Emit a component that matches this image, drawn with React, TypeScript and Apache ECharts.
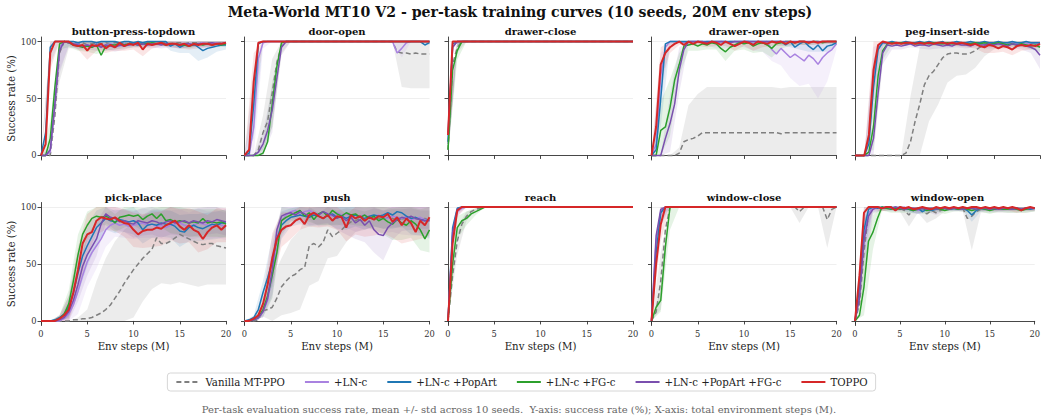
import { useEffect, useRef } from 'react';
import * as echarts from 'echarts';

// ---------- axes / categories ----------
const STEPS = [0, 0.5, 1, 1.5, 2, 2.5, 3, 3.5, 4, 4.5, 5, 5.5, 6, 6.5, 7, 7.5, 8, 8.5, 9, 9.5, 10, 10.5, 11, 11.5, 12, 12.5, 13, 13.5, 14, 14.5, 15, 15.5, 16, 16.5, 17, 17.5, 18, 18.5, 19, 19.5, 20];
const STD_STEPS = [0, 1, 2, 3, 4, 5, 6, 7, 8, 9, 10, 11, 12, 13, 14, 15, 16, 17, 18, 19, 20];
const Y_TICKS = [0, 50, 100];
const TASKS = ['button-press-topdown', 'door-open', 'drawer-close', 'drawer-open', 'peg-insert-side', 'pick-place', 'push', 'reach', 'window-close', 'window-open'];
const METHODS = ['Vanilla MT-PPO', '+LN-c', '+LN-c +PopArt', '+LN-c +FG-c', '+LN-c +PopArt +FG-c', 'TOPPO'];
const COLORS = ['#7f7f7f', '#a982e0', '#1f77b4', '#2ca02c', '#7a4fae', '#d62728'];

// ---------- button-press-topdown ----------
const bp_van = [0,0,0,35,90,100,99,100,98,99, 97,98,99,98,99,98,99,99,98,99, 99,99,98,99,99,98,99,99,98,99, 99,98,99,99,99,98,99,99,99,99, 99];
const bp_ln = [0,0,3,45,95,100,99,97,98,96, 97,95,98,96,97,98,97,96,98,97, 98,97,98,98,97,98,98,97,98,98, 97,98,98,97,98,99,98,98,99,98, 99];
const bp_pop = [0,20,95,100,100,100,100,100,99,100, 100,100,99,100,100,100,100,99,100,100, 99,100,99,100,100,100,100,100,96,98, 95,97,96,98,95,92,94,95,96,97, 97];
const bp_fg = [0,0,15,60,98,100,99,97,96,95, 96,95,97,88,96,97,97,98,97,98, 98,97,98,98,99,98,98,97,98,98, 97,97,96,97,98,97,98,97,98,97, 98];
const bp_both = [0,0,5,45,92,100,99,98,97,96, 97,96,97,95,97,96,95,97,96,97, 98,97,98,97,98,98,97,98,98,98, 97,98,98,97,98,98,98,99,98,98, 99];
const bp_top = [0,10,90,100,100,100,100,97,96,97, 92,97,96,98,94,97,95,99,96,98, 97,99,93,98,97,98,99,97,98,98, 97,98,96,98,97,98,98,97,98,98, 99];
const bp_van_s = [0,0,25,5,3,2,3,2,2,2,2,2,2,2,2,2,2,2,2,2,2];
const bp_ln_s = [0,3,20,3,4,4,3,5,4,3,3,3,3,3,3,3,3,3,3,3,3];
const bp_pop_s = [0,15,0,0,0,1,1,1,1,1,1,1,1,1,4,5,6,12,8,5,4];
const bp_fg_s = [0,15,5,4,4,5,8,4,4,3,3,3,3,2,2,2,2,2,2,2,3];
const bp_both_s = [0,4,20,3,4,4,5,4,4,3,3,3,3,3,3,3,3,3,3,3,3];
const bp_top_s = [0,15,0,2,3,8,4,4,3,4,4,6,3,3,3,3,3,3,3,2,2];

// ---------- door-open ----------
const do_van = [0,0,0,5,20,30,55,82,96,100, 100,100,100,100,100,100,100,100,100,100, 100,100,100,100,100,100,100,100,100,100, 100,100,100,91,90,90,89,90,89,89, 89];
const do_ln = [0,0,25,85,99,100,100,100,100,100, 100,100,100,100,100,100,100,100,100,100, 100,100,100,100,100,100,100,100,100,100, 100,100,100,90,94,99,100,100,100,100, 100];
const do_pop = [0,2,45,98,100,100,100,100,100,100, 100,100,100,100,100,100,100,100,100,100, 100,100,100,100,100,100,100,100,100,100, 100,100,100,100,100,100,100,100,100,97, 99];
const do_fg = [0,0,0,0,2,12,45,78,99,100, 100,100,100,100,100,100,100,100,100,100, 100,100,100,100,100,100,100,100,100,100, 100,100,100,100,100,100,100,100,100,100, 100];
const do_both = [0,0,0,3,10,22,40,68,95,100, 100,100,100,100,100,100,100,100,100,100, 100,100,100,100,100,100,100,100,100,100, 100,100,100,100,100,100,100,100,100,100, 100];
const do_top = [0,5,65,99,100,100,100,100,100,100, 100,100,100,100,100,100,100,100,100,100, 100,100,100,100,100,100,100,100,100,100, 100,100,100,100,100,100,100,100,100,100, 100];
const do_van_s = [0,0,15,30,8,0,0,0,0,0,0,0,0,0,0,0,0,30,30,30,30];
const do_ln_s = [0,25,5,0,0,0,0,0,0,0,0,0,0,0,0,0,0,8,0,0,0];
const do_pop_s = [0,30,0,0,0,0,0,0,0,0,0,0,0,0,0,0,0,0,0,0,2];
const do_fg_s = [0,0,8,20,2,0,0,0,0,0,0,0,0,0,0,0,0,0,0,0,0];
const do_both_s = [0,0,10,20,5,0,0,0,0,0,0,0,0,0,0,0,0,0,0,0,0];
const do_top_s = [0,25,0,0,0,0,0,0,0,0,0,0,0,0,0,0,0,0,0,0,0];

// ---------- drawer-close ----------
const dc_van = [5,80,95,100,100,100,100,100,100,100, 100,100,100,100,100,100,100,100,100,100, 100,100,100,100,100,100,100,100,100,100, 100,100,100,100,100,100,100,100,100,100, 100];
const dc_ln = [10,95,100,100,100,100,100,100,100,100, 100,100,100,100,100,100,100,100,100,100, 100,100,100,100,100,100,100,100,100,100, 100,100,100,100,100,100,100,100,100,100, 100];
const dc_pop = [12,98,100,100,100,100,100,100,100,100, 100,100,100,100,100,100,100,100,100,100, 100,100,100,100,100,100,100,100,100,100, 100,100,100,100,100,100,100,100,100,100, 100];
const dc_fg = [5,75,92,100,100,100,100,100,100,100, 100,100,100,100,100,100,100,100,100,100, 100,100,100,100,100,100,100,100,100,100, 100,100,100,100,100,100,100,100,100,100, 100];
const dc_both = [20,95,100,100,100,100,100,100,100,100, 100,100,100,100,100,100,100,100,100,100, 100,100,100,100,100,100,100,100,100,100, 100,100,100,100,100,100,100,100,100,100, 100];
const dc_top = [18,100,100,100,100,100,100,100,100,100, 100,100,100,100,100,100,100,100,100,100, 100,100,100,100,100,100,100,100,100,100, 100,100,100,100,100,100,100,100,100,100, 100];
const dc_van_s = [10,5,0,0,0,0,0,0,0,0,0,0,0,0,0,0,0,0,0,0,0];
const dc_ln_s = [15,3,0,0,0,0,0,0,0,0,0,0,0,0,0,0,0,0,0,0,0];
const dc_pop_s = [15,2,0,0,0,0,0,0,0,0,0,0,0,0,0,0,0,0,0,0,0];
const dc_fg_s = [10,8,0,0,0,0,0,0,0,0,0,0,0,0,0,0,0,0,0,0,0];
const dc_both_s = [20,3,0,0,0,0,0,0,0,0,0,0,0,0,0,0,0,0,0,0,0];
const dc_top_s = [20,0,0,0,0,0,0,0,0,0,0,0,0,0,0,0,0,0,0,0,0];

// ---------- drawer-open ----------
const dro_van = [0,0,0,0,0,0,2,12,14,15, 17,20,20,20,20,20,20,20,20,20, 20,20,20,20,20,20,20,20,19,20, 20,20,20,20,20,20,20,20,20,20, 20];
const dro_ln = [0,10,70,95,100,100,100,99,100,98, 100,99,100,100,98,100,99,100,100,99, 100,100,98,100,99,100,93,89,94,90, 86,89,86,83,88,85,80,86,90,93, 98];
const dro_pop = [0,5,50,98,100,100,100,100,100,100, 100,100,100,100,100,100,100,100,100,100, 100,100,100,100,100,100,100,100,100,97, 100,95,98,100,96,93,97,92,96,97, 99];
const dro_fg = [0,0,22,25,42,66,80,96,97,98, 96,98,97,99,98,94,91,95,97,99, 98,99,96,98,99,97,94,98,99,100, 100,99,100,100,99,100,100,99,100,100, 100];
const dro_both = [0,0,0,15,28,45,75,93,100,100, 100,100,99,100,100,100,100,99,100,100, 100,100,100,100,100,100,100,100,100,100, 100,100,100,100,100,100,100,100,100,100, 100];
const dro_top = [0,25,80,90,95,98,100,97,100,98, 100,99,98,100,99,97,100,98,96,98, 100,99,97,100,99,98,100,99,100,98, 100,99,100,100,99,100,99,100,100,100, 100];
const dro_van_s = [0,0,0,5,30,37,40,40,40,40,40,40,40,40,40,40,40,40,40,40,40];
const dro_ln_s = [0,20,3,2,2,3,3,4,5,4,5,6,8,10,15,18,25,25,30,25,5];
const dro_pop_s = [0,25,3,0,0,0,0,0,0,0,0,0,0,0,3,5,5,5,6,5,2];
const dro_fg_s = [0,25,25,10,5,4,4,5,8,5,5,6,8,8,5,4,3,2,2,2,2];
const dro_both_s = [0,0,25,20,2,0,0,0,0,0,0,0,0,0,0,0,0,0,0,0,0];
const dro_top_s = [0,15,5,3,3,4,3,3,4,4,4,5,4,4,4,3,3,2,2,2,2];

// ---------- peg-insert-side ----------
const pi_van = [0,0,0,0,0,0,0,0,0,0, 0,2,12,30,45,62,70,74,80,86, 89,90,90,89,89,90,92,95,97,98, 98,98,99,98,99,98,99,98,98,99, 98];
const pi_ln = [0,0,0,15,70,95,99,98,99,98, 99,98,99,99,98,99,98,99,99,98, 99,98,99,99,98,99,98,99,98,99, 98,99,98,99,99,98,99,98,99,99, 98];
const pi_pop = [0,0,0,10,60,93,99,99,100,99, 99,100,99,99,100,99,100,99,99,100, 97,99,100,99,99,100,99,99,100,99, 99,100,99,99,100,99,99,100,99,99, 99];
const pi_fg = [0,0,0,3,25,70,92,98,99,98, 99,98,99,98,98,99,98,99,98,98, 99,98,98,99,98,98,99,98,99,98, 98,99,98,97,98,97,98,97,96,97, 95];
const pi_both = [0,0,0,0,15,55,90,97,96,97, 96,97,98,96,97,97,96,98,97,96, 97,96,98,97,97,96,98,97,97,98, 97,98,97,96,98,97,97,96,95,93, 88];
const pi_top = [0,0,0,18,75,97,100,99,98,99, 98,99,99,98,99,98,99,98,99,99, 98,99,98,99,98,97,98,96,95,97, 96,94,96,95,93,96,97,96,97,96, 98];
const pi_van_s = [0,0,0,0,0,0,40,50,40,35,25,20,18,15,10,5,3,3,3,3,3];
const pi_ln_s = [0,0,25,3,2,2,2,2,2,2,2,2,2,2,2,2,2,2,2,2,3];
const pi_pop_s = [0,0,25,2,1,1,1,1,1,1,2,1,1,1,1,1,1,1,1,1,1];
const pi_fg_s = [0,0,20,8,2,2,2,2,2,2,2,2,2,2,2,2,3,3,3,3,4];
const pi_both_s = [0,0,15,10,3,3,3,3,3,3,3,3,3,3,3,3,3,4,4,5,12];
const pi_top_s = [0,0,25,2,2,2,2,2,2,2,2,2,3,4,5,6,5,5,5,4,3];

// ---------- pick-place ----------
const pp_van = [0,0,0,0,0,0,0,1,1,2, 2,3,5,7,10,14,20,26,33,39, 45,50,55,59,63,73,68,68,70,73, 76,74,72,70,68,67,68,68,66,65, 64];
const pp_ln = [0,0,0,0,0,2,6,14,26,40, 52,60,66,72,80,84,86,84,85,83, 84,85,86,84,85,83,84,82,84,85, 86,84,83,84,86,85,84,83,85,84, 83];
const pp_pop = [0,0,0,1,3,6,12,25,42,57, 66,74,82,86,90,88,87,89,88,87, 88,86,80,84,85,84,86,85,85,83, 79,78,82,84,82,81,83,85,84,86, 86];
const pp_fg = [0,0,0,0,2,6,15,35,58,76, 84,90,92,91,92,90,86,91,92,93, 92,93,89,92,94,90,94,88,89,87, 88,87,86,87,86,90,86,87,86,87, 85];
const pp_both = [0,0,0,0,1,3,8,18,32,48, 58,65,72,85,94,91,90,87,88,86, 85,88,87,86,88,87,85,87,88,86, 87,88,86,88,87,86,88,87,89,88, 87];
const pp_top = [0,0,0,0,2,5,10,25,45,68, 76,78,88,91,90,89,91,88,86,85, 80,76,79,80,80,82,81,84,86,88, 83,80,84,80,78,72,78,82,84,80, 84];
const pp_van_s = [0,0,0,0,2,8,30,45,50,47,42,38,35,35,38,42,40,38,36,34,32];
const pp_ln_s = [0,0,2,8,20,22,20,15,12,12,12,13,12,12,13,12,12,13,12,12,12];
const pp_pop_s = [0,0,2,10,18,18,15,10,10,10,12,12,12,12,12,14,12,12,12,12,12];
const pp_fg_s = [0,0,3,12,18,12,8,8,8,10,8,10,8,12,12,12,12,12,12,12,12];
const pp_both_s = [0,0,2,10,15,18,15,8,10,10,12,12,12,12,12,12,12,12,12,12,12];
const pp_top_s = [0,0,3,12,20,18,12,10,12,12,15,15,15,15,15,15,15,18,15,15,15];

// ---------- push ----------
const pu_van = [0,0,0,1,9,10,12,20,30,35, 39,41,45,47,66,68,65,69,80,74, 77,80,84,87,88,90,88,90,91,90, 89,91,90,88,90,89,91,90,89,90, 89];
const pu_ln = [0,0,1,2,8,18,40,70,88,93, 96,97,94,96,97,95,93,96,94,92, 95,93,94,92,90,92,93,91,92,93, 91,90,92,91,90,92,89,90,91,89, 88];
const pu_pop = [0,1,3,10,25,38,52,72,84,88, 91,92,93,92,91,93,92,90,93,94, 91,92,90,92,93,91,90,92,93,92, 93,95,93,96,95,92,90,91,89,88, 89];
const pu_fg = [0,0,1,3,10,22,40,60,88,91, 93,95,97,92,95,89,94,96,92,97, 94,92,95,93,94,91,93,90,92,88, 90,87,85,89,86,84,88,85,80,72, 80];
const pu_both = [0,0,1,3,8,20,45,80,92,94, 95,93,96,94,92,95,93,96,94,93, 90,92,88,91,86,89,84,88,80,76, 75,82,86,89,91,90,92,90,89,88, 88];
const pu_top = [0,0,2,5,15,32,55,72,80,83, 84,88,90,85,93,95,92,90,93,88, 92,91,82,93,90,92,88,91,89,92, 91,94,87,91,84,90,86,78,88,84, 91];
const pu_van_s = [0,0,5,25,25,32,35,35,30,25,20,15,10,8,8,8,8,8,8,8,8];
const pu_ln_s = [0,0,5,20,15,8,8,8,10,10,10,12,12,12,12,14,14,14,14,16,16];
const pu_pop_s = [0,2,10,22,12,8,8,8,8,8,10,10,10,10,10,12,12,12,14,14,16];
const pu_fg_s = [0,0,6,20,12,6,8,8,10,8,10,10,10,10,12,14,14,15,15,18,20];
const pu_both_s = [0,0,5,22,8,6,6,8,8,8,10,12,14,15,20,22,15,12,12,12,12];
const pu_top_s = [0,0,8,22,15,12,10,10,10,10,12,12,14,14,14,14,14,16,16,16,16];

// ---------- reach ----------
const re_van = [0,40,70,85,92,96,98,99,100,100, 100,100,100,100,100,100,100,100,100,100, 100,100,100,100,100,100,100,100,100,100, 100,100,100,100,100,100,100,100,100,100, 100];
const re_ln = [0,75,96,99,100,100,100,100,100,100, 100,100,100,100,100,100,100,100,100,100, 100,100,100,100,100,100,100,100,100,100, 100,100,100,100,100,100,100,100,100,100, 100];
const re_pop = [0,82,99,100,100,100,100,100,100,100, 100,100,100,100,100,100,100,100,100,100, 100,100,100,100,100,100,100,100,100,100, 100,100,100,100,100,100,100,100,100,100, 100];
const re_fg = [0,50,82,88,90,94,96,98,100,100, 100,100,100,100,100,100,100,100,100,100, 100,100,100,100,100,100,100,100,100,100, 100,100,100,100,100,100,100,100,100,100, 100];
const re_both = [0,78,98,100,100,100,100,100,100,100, 100,100,100,100,100,100,100,100,100,100, 100,100,100,100,100,100,100,100,100,100, 100,100,100,100,100,100,100,100,100,100, 100];
const re_top = [0,68,97,100,100,100,100,100,100,100, 100,100,100,100,100,100,100,100,100,100, 100,100,100,100,100,100,100,100,100,100, 100,100,100,100,100,100,100,100,100,100, 100];
const re_van_s = [0,12,4,1,0,0,0,0,0,0,0,0,0,0,0,0,0,0,0,0,0];
const re_ln_s = [0,5,0,0,0,0,0,0,0,0,0,0,0,0,0,0,0,0,0,0,0];
const re_pop_s = [0,3,0,0,0,0,0,0,0,0,0,0,0,0,0,0,0,0,0,0,0];
const re_fg_s = [0,10,6,3,0,0,0,0,0,0,0,0,0,0,0,0,0,0,0,0,0];
const re_both_s = [0,4,0,0,0,0,0,0,0,0,0,0,0,0,0,0,0,0,0,0,0];
const re_top_s = [0,5,0,0,0,0,0,0,0,0,0,0,0,0,0,0,0,0,0,0,0];

// ---------- window-close ----------
const wc_van = [0,8,35,80,100,100,100,100,100,100, 100,100,100,100,100,100,100,100,100,100, 100,100,100,100,100,100,100,100,100,100, 100,100,96,100,100,100,100,100,89,98, 100];
const wc_ln = [0,70,96,100,100,100,100,100,100,100, 100,100,100,100,100,100,100,100,100,100, 100,100,100,100,100,100,100,100,100,100, 100,100,100,100,100,100,100,100,100,100, 100];
const wc_pop = [0,60,95,100,100,100,100,100,100,100, 100,100,100,100,100,100,100,100,100,100, 100,100,100,100,100,100,100,100,100,100, 100,100,100,100,100,100,100,100,100,100, 100];
const wc_fg = [0,12,18,65,100,100,100,100,100,100, 100,100,100,100,100,100,100,100,100,100, 100,100,100,100,100,100,100,100,100,100, 100,100,100,100,100,100,100,100,100,100, 100];
const wc_both = [0,75,98,100,100,100,100,100,100,100, 100,100,100,100,100,100,100,100,100,100, 100,100,100,100,100,100,100,100,100,100, 100,100,100,100,100,100,100,100,100,100, 100];
const wc_top = [0,50,85,100,100,100,100,100,100,100, 100,100,100,100,100,100,100,100,100,100, 100,100,100,100,100,100,100,100,100,100, 100,100,100,100,100,100,100,100,100,100, 100];
const wc_van_s = [0,25,0,0,0,0,0,0,0,0,0,0,0,0,0,0,10,0,0,25,0];
const wc_ln_s = [0,10,0,0,0,0,0,0,0,0,0,0,0,0,0,0,0,0,0,0,0];
const wc_pop_s = [0,12,0,0,0,0,0,0,0,0,0,0,0,0,0,0,0,0,0,0,0];
const wc_fg_s = [0,10,20,0,0,0,0,0,0,0,0,0,0,0,0,0,0,0,0,0,0];
const wc_both_s = [0,8,0,0,0,0,0,0,0,0,0,0,0,0,0,0,0,0,0,0,0];
const wc_top_s = [0,15,0,0,0,0,0,0,0,0,0,0,0,0,0,0,0,0,0,0,0];

// ---------- window-open ----------
const wo_van = [0,15,60,95,99,100,99,100,99,100, 99,97,93,98,99,96,94,97,95,97, 99,98,99,98,99,90,92,96,98,99, 98,99,98,99,98,99,98,99,98,99, 99];
const wo_ln = [0,25,75,95,99,100,99,100,99,98, 99,100,98,99,97,98,99,98,99,98, 99,98,99,98,99,98,99,99,98,99, 98,99,98,99,98,99,99,98,99,98, 99];
const wo_pop = [0,30,80,98,100,99,100,99,100,99, 100,99,98,97,99,96,98,97,98,99, 99,98,99,98,99,97,93,97,99,98, 99,98,99,98,99,98,99,98,99,98, 99];
const wo_fg = [0,5,30,70,78,90,100,99,98,99, 98,99,98,97,98,99,97,98,99,98, 97,98,99,98,99,98,97,98,99,98, 97,98,99,98,98,99,98,97,98,99, 99];
const wo_both = [0,20,70,92,98,100,99,100,99,100, 99,98,99,99,98,99,98,99,98,99, 99,98,99,99,98,99,99,98,99,99, 98,99,98,99,99,98,99,98,99,99, 99];
const wo_top = [0,40,95,100,100,100,99,100,100,97, 100,99,100,98,99,100,99,98,100,99, 100,99,100,99,100,99,100,100,99,100, 99,100,99,100,99,100,99,97,99,100, 99];
const wo_van_s = [0,30,5,2,3,3,10,4,8,5,3,2,3,30,3,3,3,3,3,3,3];
const wo_ln_s = [0,20,3,2,2,3,2,3,2,3,2,3,2,2,2,2,2,2,2,2,2];
const wo_pop_s = [0,20,2,2,2,2,3,5,3,2,2,2,2,6,3,2,2,2,2,2,2];
const wo_fg_s = [0,25,15,3,3,3,3,3,3,3,3,3,3,3,3,3,3,3,3,3,3];
const wo_both_s = [0,20,3,2,2,2,2,4,2,5,2,2,2,2,2,2,2,2,2,2,2];
const wo_top_s = [0,25,2,3,2,3,2,2,2,3,2,2,2,2,2,2,2,2,4,2,2];

// tables built from the named arrays (order = METHODS)
const MEANS = [
  [bp_van, bp_ln, bp_pop, bp_fg, bp_both, bp_top],
  [do_van, do_ln, do_pop, do_fg, do_both, do_top],
  [dc_van, dc_ln, dc_pop, dc_fg, dc_both, dc_top],
  [dro_van, dro_ln, dro_pop, dro_fg, dro_both, dro_top],
  [pi_van, pi_ln, pi_pop, pi_fg, pi_both, pi_top],
  [pp_van, pp_ln, pp_pop, pp_fg, pp_both, pp_top],
  [pu_van, pu_ln, pu_pop, pu_fg, pu_both, pu_top],
  [re_van, re_ln, re_pop, re_fg, re_both, re_top],
  [wc_van, wc_ln, wc_pop, wc_fg, wc_both, wc_top],
  [wo_van, wo_ln, wo_pop, wo_fg, wo_both, wo_top],
];
const STDS = [
  [bp_van_s, bp_ln_s, bp_pop_s, bp_fg_s, bp_both_s, bp_top_s],
  [do_van_s, do_ln_s, do_pop_s, do_fg_s, do_both_s, do_top_s],
  [dc_van_s, dc_ln_s, dc_pop_s, dc_fg_s, dc_both_s, dc_top_s],
  [dro_van_s, dro_ln_s, dro_pop_s, dro_fg_s, dro_both_s, dro_top_s],
  [pi_van_s, pi_ln_s, pi_pop_s, pi_fg_s, pi_both_s, pi_top_s],
  [pp_van_s, pp_ln_s, pp_pop_s, pp_fg_s, pp_both_s, pp_top_s],
  [pu_van_s, pu_ln_s, pu_pop_s, pu_fg_s, pu_both_s, pu_top_s],
  [re_van_s, re_ln_s, re_pop_s, re_fg_s, re_both_s, re_top_s],
  [wc_van_s, wc_ln_s, wc_pop_s, wc_fg_s, wc_both_s, wc_top_s],
  [wo_van_s, wo_ln_s, wo_pop_s, wo_fg_s, wo_both_s, wo_top_s],
];

const FONT = '"DejaVu Serif", serif';
const LEFT0 = 41;
const DX = 203.5;
const PW = 185;
const PH = 123;
const TOPS = [37, 202.5];

function buildOption() {
  const grid: any[] = [];
  const xAxis: any[] = [];
  const yAxis: any[] = [];
  const bands: any[] = [];
  const lines: any[] = [];
  const graphic: any[] = [];

  TASKS.forEach((task, k) => {
    const row = Math.floor(k / 5);
    const col = k % 5;
    const left = LEFT0 + col * DX;
    const top = TOPS[row];
    grid.push({ left, top, width: PW, height: PH, containLabel: false });
    xAxis.push({
      type: 'value', gridIndex: k, min: 0, max: 20, interval: 5,
      axisLine: { show: true, lineStyle: { color: '#333', width: 0.9 } },
      axisTick: { show: true, length: 3.5, lineStyle: { color: '#333', width: 0.9 } },
      axisLabel: { show: row === 1, fontFamily: FONT, fontSize: 8.3, color: '#333', margin: 4 },
      splitLine: { show: false },
      name: row === 1 ? 'Env steps (M)' : '',
      nameLocation: 'middle', nameGap: 16,
      nameTextStyle: { fontFamily: FONT, fontSize: 10.2, color: '#222' },
    });
    yAxis.push({
      type: 'value', gridIndex: k, min: -4, max: 104,
      axisLine: { show: true, lineStyle: { color: '#333', width: 0.9 } },
      axisTick: { show: true, length: 3.5, customValues: Y_TICKS, lineStyle: { color: '#333', width: 0.9 } },
      axisLabel: { show: col === 0, customValues: Y_TICKS, fontFamily: FONT, fontSize: 8.3, color: '#333', margin: 4.5 },
      splitLine: { show: true, lineStyle: { color: '#ebebeb', width: 0.8 } },
      name: col === 0 ? 'Success rate (%)' : '',
      nameLocation: 'middle', nameGap: 23, nameRotate: 90,
      nameTextStyle: { fontFamily: FONT, fontSize: 10.2, color: '#222' },
    });
    graphic.push({
      type: 'text', x: left + PW / 2, y: row === 0 ? 31 : 197,
      style: { text: task, textAlign: 'center', textVerticalAlign: 'middle', fontFamily: FONT, fontWeight: 'bold', fontSize: 10, fill: '#111' },
    });

    METHODS.forEach((name, j) => {
      const mean = MEANS[k][j];
      const std = STDS[k][j];
      const color = COLORS[j];
      const bandData = STD_STEPS.map((x, i) => {
        const m = mean[i * 2];
        return [x, Math.max(0, m - std[i]), Math.min(100, m + std[i])];
      });
      bands.push({
        type: 'custom', name: name + ' band', xAxisIndex: k, yAxisIndex: k, silent: true, z: 1,
        data: bandData,
        encode: { x: 0, y: [1, 2] },
        renderItem: (params: any, api: any) => {
          if (params.dataIndex !== 0) return null;
          const upper = bandData.map((p) => api.coord([p[0], p[2]]));
          const lower = bandData.map((p) => api.coord([p[0], p[1]])).reverse();
          return {
            type: 'polygon', silent: true,
            shape: { points: upper.concat(lower) },
            style: { fill: color, opacity: j === 0 ? 0.15 : 0.12 },
          };
        },
      });
      lines.push({
        type: 'line', name, xAxisIndex: k, yAxisIndex: k, z: 2,
        data: mean.map((v, i) => [STEPS[i], v]),
        symbol: 'none', showSymbol: false,
        lineStyle: { color, width: j === 5 ? 2 : 1.5, type: j === 0 ? [5, 3] : 'solid' },
        itemStyle: { color },
      });
    });
  });

  graphic.push({
    type: 'text', x: 520, y: 12,
    style: { text: 'Meta-World MT10 V2 - per-task training curves (10 seeds, 20M env steps)', textAlign: 'center', textVerticalAlign: 'middle', fontFamily: FONT, fontWeight: 'bold', fontSize: 14.1, fill: '#111' },
  });
  graphic.push({
    type: 'text', x: 519, y: 409,
    style: { text: 'Per-task evaluation success rate, mean +/- std across 10 seeds.  Y-axis: success rate (%); X-axis: total environment steps (M).', textAlign: 'center', textVerticalAlign: 'middle', fontFamily: FONT, fontSize: 10, fill: '#666' },
  });

  return {
    animation: false,
    backgroundColor: '#ffffff',
    grid, xAxis, yAxis,
    legend: {
      data: METHODS, left: 'center', top: 373,
      itemWidth: 24, itemHeight: 10, itemGap: 19,
      itemStyle: { opacity: 0 },
      textStyle: { fontFamily: FONT, fontSize: 10.2, color: '#222' },
      borderColor: '#cccccc', borderWidth: 0.8, borderRadius: 3, padding: [4, 8],
      selectedMode: false,
    },
    graphic,
    series: [...bands, ...lines],
  };
}

export default function App() {
  const ref = useRef<HTMLDivElement>(null);
  useEffect(() => {
    document.body.style.margin = '0';
    if (!ref.current) return;
    const chart = echarts.init(ref.current, undefined, { renderer: 'svg' });
    chart.setOption(buildOption() as any);
    return () => chart.dispose();
  }, []);
  return <div ref={ref} style={{ width: 1043, height: 419 }} />;
}
